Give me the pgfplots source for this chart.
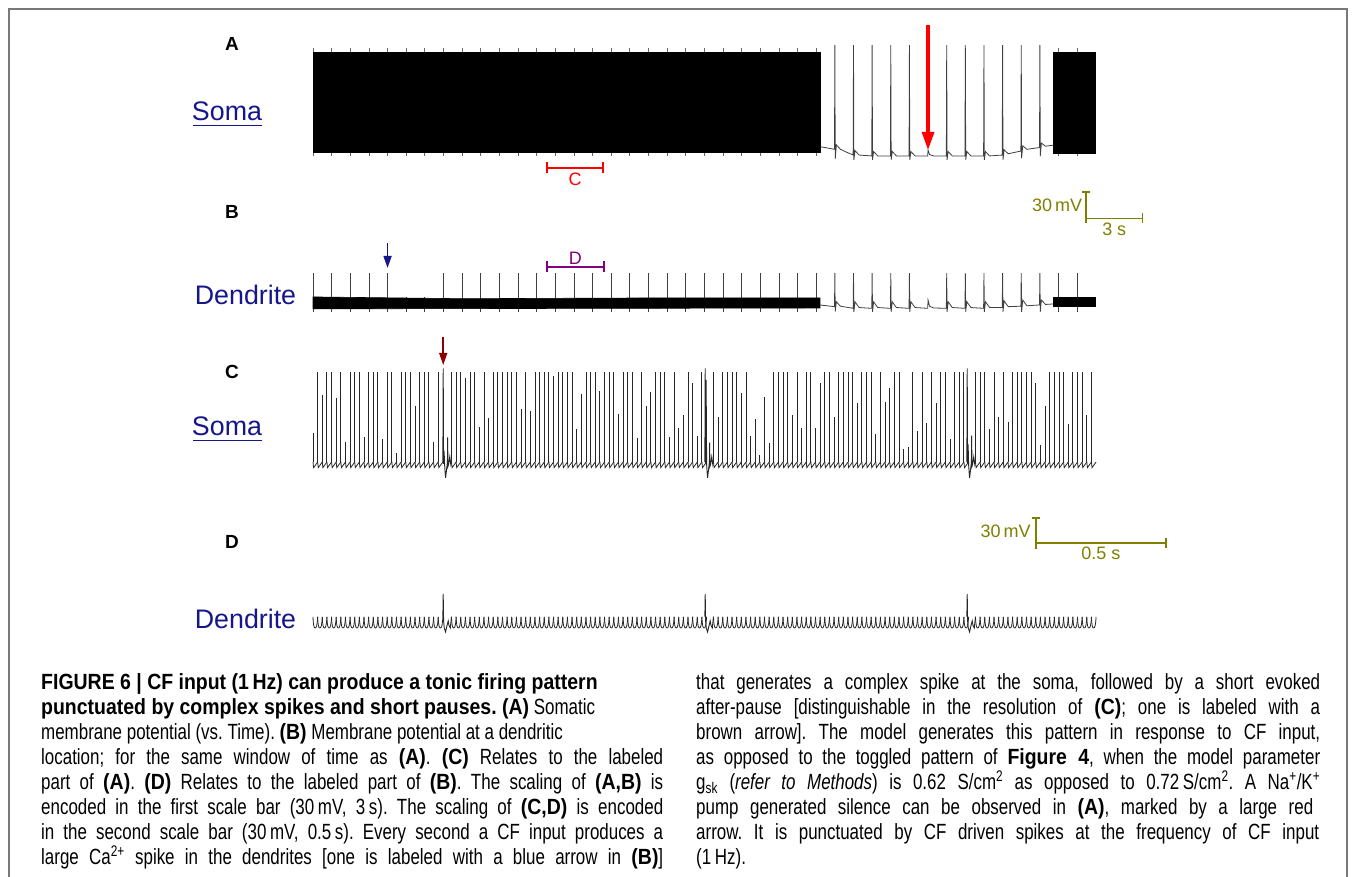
\documentclass[border=0pt]{standalone}
\usepackage{pgfplots}
\pgfplotsset{compat=1.18}
\usepackage{pgfplotstable}
\usepackage{fontspec}
\setmainfont{Liberation Sans}
\newfontfamily\capfont{Liberation Sans}[FakeStretch=0.77, BoldFeatures={FakeStretch=0.885}]
\usetikzlibrary{arrows.meta}
\definecolor{navy}{RGB}{22,22,140}
\definecolor{olivebar}{RGB}{128,128,0}
\definecolor{brownarrow}{RGB}{139,0,0}
\definecolor{purplebar}{RGB}{128,0,128}
\definecolor{bordergray}{RGB}{120,120,120}

% after-spike zigzag of the somatic trace (one ISI long)
\pgfdeclareplotmark{zig}{\pgfpathmoveto{\pgfpoint{0pt}{0pt}}\pgfpathlineto{\pgfpoint{0.6pt}{-5.6pt}}\pgfpathlineto{\pgfpoint{4.64pt}{0pt}}\pgfusepathqstroke}
% u-shaped dendritic wave (one ISI long, peak at the spike time)
\pgfdeclareplotmark{uu}{\pgfpathmoveto{\pgfpoint{0pt}{11.2pt}}\pgfpathcurveto{\pgfpoint{0.3pt}{2.4pt}}{\pgfpoint{1pt}{0pt}}{\pgfpoint{2.2pt}{0pt}}\pgfpathcurveto{\pgfpoint{3.4pt}{0pt}}{\pgfpoint{4.2pt}{2.4pt}}{\pgfpoint{4.64pt}{11.2pt}}\pgfusepathqstroke}

\pgfplotsset{trace/.style={hide axis, scale only axis, clip=false, anchor=south west}}

% simple-spike times (ms) and somatic spike heights above baseline (mV) for panels C and D
\pgfplotstableread{
t h
0 33
17.7 102
35.4 76
53.1 102
70.8 102
88.5 73
106.2 102
123.9 23
141.6 102
159.3 102
177.0 102
194.7 28
212.4 102
230.1 102
247.8 102
265.5 26
283.2 102
300.9 102
318.6 10
336.3 102
354.0 102
371.7 102
389.4 63
407.1 102
424.8 102
442.5 102
460.2 23
477.9 102
528.6 102
546.3 102
564.0 102
581.7 95
599.4 102
617.1 102
634.8 40
652.5 102
670.2 50
687.9 102
705.6 102
723.3 102
741.0 102
758.7 102
776.4 102
794.1 60
811.8 102
829.5 58
847.2 102
864.9 102
882.6 102
900.3 102
918.0 97
935.7 102
953.4 102
971.1 102
988.8 102
1006.5 37
1024.2 77
1041.9 102
1059.6 102
1077.3 102
1095.0 81
1112.7 102
1130.4 102
1148.1 102
1165.8 54
1183.5 102
1201.2 102
1218.9 102
1236.6 27
1254.3 102
1272.0 63
1289.7 79
1307.4 102
1325.1 102
1342.8 102
1360.5 28
1378.2 102
1395.9 39
1413.6 53
1431.3 102
1449.0 90
1466.7 30
1484.4 102
1528.6 102
1546.3 51
1564.0 102
1581.7 102
1599.4 102
1617.1 102
1634.8 78
1652.5 102
1670.2 29
1687.9 49
1705.6 8
1723.3 74
1741.0 21
1758.7 102
1776.4 102
1794.1 102
1811.8 102
1829.5 53
1847.2 102
1864.9 39
1882.6 102
1900.3 102
1918.0 38
1935.7 90
1953.4 102
1971.1 102
1988.8 51
2006.5 102
2024.2 102
2041.9 102
2059.6 102
2077.3 67
2095.0 102
2112.7 102
2130.4 102
2148.1 32
2165.8 102
2183.5 68
2201.2 84
2218.9 102
2236.6 102
2254.3 15
2272.0 17
2289.7 102
2307.4 35
2325.1 102
2342.8 44
2360.5 102
2378.2 67
2395.9 102
2413.6 102
2431.3 26
2449.0 102
2466.7 102
2484.4 102
2528.6 102
2546.3 102
2564.0 102
2581.7 37
2599.4 102
2617.1 51
2634.8 102
2652.5 45
2670.2 102
2687.9 102
2705.6 102
2723.3 102
2741.0 102
2758.7 90
2776.4 19
2794.1 63
2811.8 102
2829.5 102
2847.2 102
2864.9 102
2882.6 43
2900.3 102
2918.0 102
2935.7 102
2953.4 53
2971.1 102
}\spikes

\begin{document}
\frenchspacing
\begin{tikzpicture}
\begin{scope}[x=1pt,y=1pt]
\fill[white,use as bounding box] (0,-876) rectangle (1355,0);
\draw[bordergray, line width=2pt] (8.5,-880) -- (8.5,-8.5) -- (1346.5,-8.5) -- (1346.5,-880);
\end{scope}

% ---------------- Panel A : soma, 42 s ----------------
\begin{axis}[trace, at={(313pt,-165.2pt)}, width=782.8pt, height=123.6pt,
  xmin=0, xmax=42, ymin=-80, ymax=60]
\addplot[black!60, line width=0.8pt, unbounded coords=jump] coordinates {
(0,52.8)(0,-69.5)(0,nan)(1,52.8)(1,-69.5)(1,nan)(2,52.8)(2,-69.5)(2,nan)(3,52.8)(3,-69.5)(3,nan)
(4,52.8)(4,-69.5)(4,nan)(5,52.8)(5,-69.5)(5,nan)(6,52.8)(6,-69.5)(6,nan)(7,52.8)(7,-69.5)(7,nan)
(8,52.8)(8,-69.5)(8,nan)(9,52.8)(9,-69.5)(9,nan)(10,52.8)(10,-69.5)(10,nan)(11,52.8)(11,-69.5)(11,nan)
(12,52.8)(12,-69.5)(12,nan)(13,52.8)(13,-69.5)(13,nan)(14,52.8)(14,-69.5)(14,nan)(15,52.8)(15,-69.5)(15,nan)
(16,52.8)(16,-69.5)(16,nan)(17,52.8)(17,-69.5)(17,nan)(18,52.8)(18,-69.5)(18,nan)(19,52.8)(19,-69.5)(19,nan)
(20,52.8)(20,-69.5)(20,nan)(21,52.8)(21,-69.5)(21,nan)(22,52.8)(22,-69.5)(22,nan)(23,52.8)(23,-69.5)(23,nan)
(24,52.8)(24,-69.5)(24,nan)(25,52.8)(25,-69.5)(25,nan)(26,52.8)(26,-69.5)(26,nan)(27,52.8)(27,-69.5)(27,nan)
(40,52.8)(40,-69.5)(40,nan)(41,52.8)(41,-69.5)};
\addplot[fill=black, draw=black, line width=0.6pt] coordinates {(0,-65)(27.2,-65)(27.2,48.2)(0,48.2)} -- cycle;
\addplot[fill=black, draw=black, line width=0.6pt] coordinates {(39.7,-66)(41.95,-66)(41.95,48.4)(39.7,48.4)} -- cycle;
\addplot[black!75, line width=0.8pt] coordinates {
(27.2,-59)(27.6,-60.5)(27.98,-62)(28,56)(28.02,-73)(28.08,-57)(28.3,-62)(28.6,-65)
(28.98,-68.4)(29,56)(29.02,-74)(29.08,-63.5)(29.3,-68.5)(29.98,-69.5)
(30,56)(30.02,-74)(30.08,-64.5)(30.3,-69.5)(30.98,-69.5)
(31,56)(31.02,-74)(31.08,-64.5)(31.3,-69.5)(31.98,-69.5)
(32,56)(32.02,-74)(32.08,-64.5)(32.3,-69.5)(32.98,-69.5)
(33,-63)(33.08,-68)(33.3,-69.5)(33.98,-69.5)
(34,56)(34.02,-74)(34.08,-64.5)(34.3,-69.5)(34.98,-69.5)
(35,56)(35.02,-74)(35.08,-64.5)(35.3,-69.5)(35.98,-69.5)
(36,56)(36.02,-74)(36.08,-64.5)(36.3,-69.5)(36.98,-68.5)
(37,56)(37.02,-74)(37.08,-62.5)(37.3,-67)(37.98,-64)
(38,56)(38.02,-72)(38.08,-58)(38.3,-62)(38.98,-60)
(39,56)(39.02,-70)(39.08,-55)(39.3,-58.5)(39.7,-57.4)};
\addplot[red, line width=3.2pt, -{Triangle[width=12pt,length=18pt]}] coordinates {(33,78.8)(33,-62.7)};
\addplot[red, line width=2pt] coordinates {(12.57,-82.8)(15.57,-82.8)};
\addplot[red, line width=2pt] coordinates {(12.57,-76.8)(12.57,-88.8)};
\addplot[red, line width=2pt] coordinates {(15.57,-76.8)(15.57,-88.8)};
\node[red, font=\fontsize{18}{20}\selectfont] at (axis cs:14.07,-96) {C};
\end{axis}

% ---------------- Panel B : dendrite, 42 s ----------------
\begin{axis}[trace, at={(313pt,-316.8pt)}, width=782.8pt, height=53pt,
  xmin=0, xmax=42, ymin=-70, ymax=-10]
\addplot[black!75, line width=0.8pt, unbounded coords=jump] coordinates {
(0,-20.5)(0,-64.5)(0,nan)(1,-20.5)(1,-64.5)(1,nan)(2,-20.5)(2,-64.5)(2,nan)(3,-20.5)(3,-64.5)(3,nan)
(4,-20.5)(4,-64.5)(4,nan)(5,-48)(5,-64.5)(5,nan)(6,-48)(6,-64.5)(6,nan)(7,-20.5)(7,-64.5)(7,nan)
(8,-20.5)(8,-64.5)(8,nan)(9,-20.5)(9,-64.5)(9,nan)(10,-20.5)(10,-64.5)(10,nan)(11,-20.5)(11,-64.5)(11,nan)
(12,-20.5)(12,-64.5)(12,nan)(13,-20.5)(13,-64.5)(13,nan)(14,-20.5)(14,-64.5)(14,nan)(15,-20.5)(15,-64.5)(15,nan)
(16,-20.5)(16,-64.5)(16,nan)(17,-20.5)(17,-64.5)(17,nan)(18,-20.5)(18,-64.5)(18,nan)(19,-20.5)(19,-64.5)(19,nan)
(20,-20.5)(20,-64.5)(20,nan)(21,-20.5)(21,-64.5)(21,nan)(22,-20.5)(22,-64.5)(22,nan)(23,-20.5)(23,-64.5)(23,nan)
(24,-20.5)(24,-64.5)(24,nan)(25,-20.5)(25,-64.5)(25,nan)(26,-20.5)(26,-64.5)(26,nan)(27,-20.5)(27,-64.5)(27,nan)
(40,-20.5)(40,-64.5)(40,nan)(41,-20.5)(41,-64.5)};
\addplot[fill=black, draw=black, line width=0.6pt] coordinates {(0,-61)(27.2,-60)(27.2,-48.5)(20,-48.5)(14,-49)(8,-49.5)(4,-48.5)(0,-47.5)} -- cycle;
\addplot[fill=black, draw=black, line width=0.6pt] coordinates {(39.7,-58.5)(41.95,-58.5)(41.95,-47.5)(39.7,-47.5)} -- cycle;
\addplot[black!75, line width=0.8pt] coordinates {
(27.2,-56.6)(27.98,-58.5)(28,-20.5)(28.02,-64)(28.08,-53)(28.3,-58)(28.98,-60.4)
(29,-20.5)(29.02,-64.5)(29.08,-53)(29.3,-59.5)(29.98,-60.4)
(30,-20.5)(30.02,-64.5)(30.08,-53)(30.3,-59.5)(30.98,-60.4)
(31,-20.5)(31.02,-64.5)(31.08,-53)(31.3,-59.5)(31.98,-60.4)
(32,-20.5)(32.02,-64.5)(32.08,-53)(32.3,-59.5)(32.98,-60.4)
(33,-51)(33.08,-58)(33.3,-60)(33.98,-60.4)
(34,-20.5)(34.02,-64.5)(34.08,-53)(34.3,-59.5)(34.98,-60.4)
(35,-20.5)(35.02,-64.5)(35.08,-53)(35.3,-59.5)(35.98,-60.4)
(36,-20.5)(36.02,-64.5)(36.08,-53)(36.3,-59.5)(36.98,-59.5)
(37,-20.5)(37.02,-64.5)(37.08,-52)(37.3,-58.5)(37.98,-58)
(38,-20.5)(38.02,-64.5)(38.08,-51)(38.3,-57.5)(38.98,-56.6)
(39,-20.5)(39.02,-64.5)(39.08,-51)(39.3,-56)(39.7,-55.5)};
\addplot[navy, line width=1.6pt, -{Triangle[width=8pt,length=12pt]}] coordinates {(4,13.6)(4,-14.7)};
\addplot[purplebar, line width=2pt] coordinates {(12.57,-13.2)(15.6,-13.2)};
\addplot[purplebar, line width=2pt] coordinates {(12.57,-7.2)(12.57,-19.2)};
\addplot[purplebar, line width=2pt] coordinates {(15.6,-7.2)(15.6,-19.2)};
\node[purplebar, font=\fontsize{18}{20}\selectfont] at (axis cs:14.08,-3.7) {D};
% scale bar 30 mV / 3 s
\addplot[olivebar, line width=1.6pt] coordinates {(41.47,71.4)(41.47,36.6)};
\addplot[olivebar, line width=1.6pt] coordinates {(41.26,71.4)(41.68,71.4)};
\addplot[olivebar, line width=1.6pt] coordinates {(41.47,41.4)(44.51,41.4)};
\addplot[olivebar, line width=1.6pt] coordinates {(44.51,47.0)(44.51,35.8)};
\node[olivebar, anchor=east, inner sep=0pt, font=\fontsize{18}{20}\selectfont] at (axis cs:41.28,56.6) {30\,mV};
\node[olivebar, inner sep=0pt, font=\fontsize{18}{20}\selectfont] at (axis cs:42.99,29.5) {3 s};
\end{axis}

% ---------------- Panel C : soma, 3 s ----------------
\begin{axis}[trace, at={(313pt,-484.1pt)}, width=786pt, height=119.2pt,
  xmin=0, xmax=3000, ymin=-25, ymax=110]
\addplot[ycomb, black!85, line width=0.9pt] table[x=t,y=h] {\spikes};
\addplot[only marks, mark=zig, mark options={black!85, line width=0.8pt}] table[x=t, y expr=0] {\spikes};
\addplot[black!85, line width=0.9pt] coordinates {(495.6,0)(497,106)(498.5,-2)(500.5,12)(502.5,-4)(506,-18)(510,-8)(513,0)(514,28)(515,-5)(518,-2)(522,6)(526,-3)(528.6,0)};
\addplot[black!85, line width=0.9pt] coordinates {(1495.6,0)(1497,106)(1498.5,-2)(1500.5,93)(1502.5,-4)(1506,-18)(1510,-8)(1513,0)(1514,22)(1515,-5)(1518,-2)(1522,6)(1526,-3)(1528.6,0)};
\addplot[black!85, line width=0.9pt] coordinates {(2495.6,0)(2497,106)(2498.5,-2)(2500.5,20)(2502.5,-4)(2506,-18)(2510,-8)(2513,0)(2514,30)(2515,-5)(2518,-2)(2522,6)(2526,-3)(2528.6,0)};
\addplot[brownarrow, line width=1.6pt, -{Triangle[width=8pt,length=12pt]}] coordinates {(497,141.9)(497,109.9)};
\end{axis}

% ---------------- Panel D : dendrite, 3 s ----------------
\begin{axis}[trace, at={(313pt,-636.8pt)}, width=786pt, height=48.6pt,
  xmin=0, xmax=3000, ymin=-10, ymax=45]
\addplot[only marks, mark=uu, mark options={black!85, line width=0.8pt}] table[x=t, y expr=0] {\spikes};
\addplot[black!85, line width=0.9pt] coordinates {(495.6,12.8)(497,38.5)(498.5,8)(501,0)(506,-4.5)(511,2)(516,8)(519,3)(524,0)(528.6,12.8)};
\addplot[black!85, line width=0.9pt] coordinates {(1495.6,12.8)(1497,38.5)(1498.5,8)(1501,0)(1506,-4.5)(1511,2)(1516,8)(1519,3)(1524,0)(1528.6,12.8)};
\addplot[black!85, line width=0.9pt] coordinates {(2495.6,12.8)(2497,38.5)(2498.5,8)(2501,0)(2506,-4.5)(2511,2)(2516,8)(2519,3)(2524,0)(2528.6,12.8)};
% scale bar 30 mV / 0.5 s
\addplot[olivebar, line width=1.6pt] coordinates {(2759.5,124.6)(2759.5,89.0)};
\addplot[olivebar, line width=1.6pt] coordinates {(2744,124.6)(2775,124.6)};
\addplot[olivebar, line width=1.6pt] coordinates {(2759.5,95.9)(3255.7,95.9)};
\addplot[olivebar, line width=1.6pt] coordinates {(3255.7,101.6)(3255.7,90.2)};
\node[olivebar, anchor=east, inner sep=0pt, font=\fontsize{18}{20}\selectfont] at (axis cs:2740,109) {30\,mV};
\node[olivebar, inner sep=0pt, font=\fontsize{18}{20}\selectfont] at (axis cs:3007,85) {0.5 s};
\end{axis}

\begin{scope}[x=1pt,y=1pt]
% ---------------- panel labels ----------------
\node[font=\bfseries\fontsize{19}{22}\selectfont] at (232,-44) {A};
\node[font=\bfseries\fontsize{19}{22}\selectfont] at (232,-212) {B};
\node[font=\bfseries\fontsize{19}{22}\selectfont] at (232,-372) {C};
\node[font=\bfseries\fontsize{19}{22}\selectfont] at (232,-542) {D};
\node[navy, anchor=base, inner sep=0pt, font=\fontsize{26.8}{32}\selectfont] at (227,-120) {Soma};
\draw[navy, line width=1.8pt] (193,-125.5) -- (262,-125.5);
\node[navy, anchor=base, inner sep=0pt, font=\fontsize{26.8}{32}\selectfont] at (245.5,-304) {Dendrite};
\node[navy, anchor=base, inner sep=0pt, font=\fontsize{26.8}{32}\selectfont] at (227,-435) {Soma};
\draw[navy, line width=1.8pt] (193,-440.5) -- (262,-440.5);
\node[navy, anchor=base, inner sep=0pt, font=\fontsize{26.8}{32}\selectfont] at (245.5,-628) {Dendrite};

% ---------------- caption ----------------
\begin{scope}[every node/.style={anchor=base west, inner sep=0pt, font=\capfont\fontsize{22}{26}\selectfont}]
\node at (41,-689) {\makebox[622pt][l]{\textbf{FIGURE 6 | CF input (1\,Hz) can produce a tonic firing pattern}}};
\node at (41,-714) {\makebox[622pt][l]{\textbf{punctuated by complex spikes and short pauses. (A)} Somatic}};
\node at (41,-739) {\makebox[622pt][l]{membrane potential (vs. Time). \textbf{(B)} Membrane potential at a dendritic}};
\node at (41,-764) {\makebox[622pt][s]{location; for the same window of time as \textbf{(A)}. \textbf{(C)} Relates to the labeled}};
\node at (41,-789) {\makebox[622pt][s]{part of \textbf{(A)}. \textbf{(D)} Relates to the labeled part of \textbf{(B)}. The scaling of \textbf{(A,B)} is}};
\node at (41,-814) {\makebox[622pt][s]{encoded in the first scale bar (30\,mV, 3\,s). The scaling of \textbf{(C,D)} is encoded}};
\node at (41,-839) {\makebox[622pt][s]{in the second scale bar (30\,mV, 0.5\,s). Every second a CF input produces a}};
\node at (41,-864) {\makebox[622pt][s]{large Ca\textsuperscript{2+} spike in the dendrites [one is labeled with a blue arrow in \textbf{(B)}]}};
\node at (696,-689) {\makebox[624pt][s]{that generates a complex spike at the soma, followed by a short evoked}};
\node at (696,-714) {\makebox[624pt][s]{after-pause [distinguishable in the resolution of \textbf{(C)}; one is labeled with a}};
\node at (696,-739) {\makebox[624pt][s]{brown arrow]. The model generates this pattern in response to CF input,}};
\node at (696,-764) {\makebox[624pt][s]{as opposed to the toggled pattern of \textbf{Figure 4}, when the model parameter}};
\node at (696,-789) {\makebox[624pt][s]{g\textsubscript{sk} (\textit{refer to Methods}) is 0.62 S/cm\textsuperscript{2} as opposed to 0.72\,S/cm\textsuperscript{2}. A Na\textsuperscript{+}/K\textsuperscript{+}}};
\node at (696,-814) {\makebox[617pt][s]{pump generated silence can be observed in \textbf{(A)}, marked by a large red}};
\node at (696,-839) {\makebox[623pt][s]{arrow. It is punctuated by CF driven spikes at the frequency of CF input}};
\node at (696,-864) {\makebox[624pt][l]{(1\,Hz).}};
\end{scope}
\end{scope}
\end{tikzpicture}
\end{document}
